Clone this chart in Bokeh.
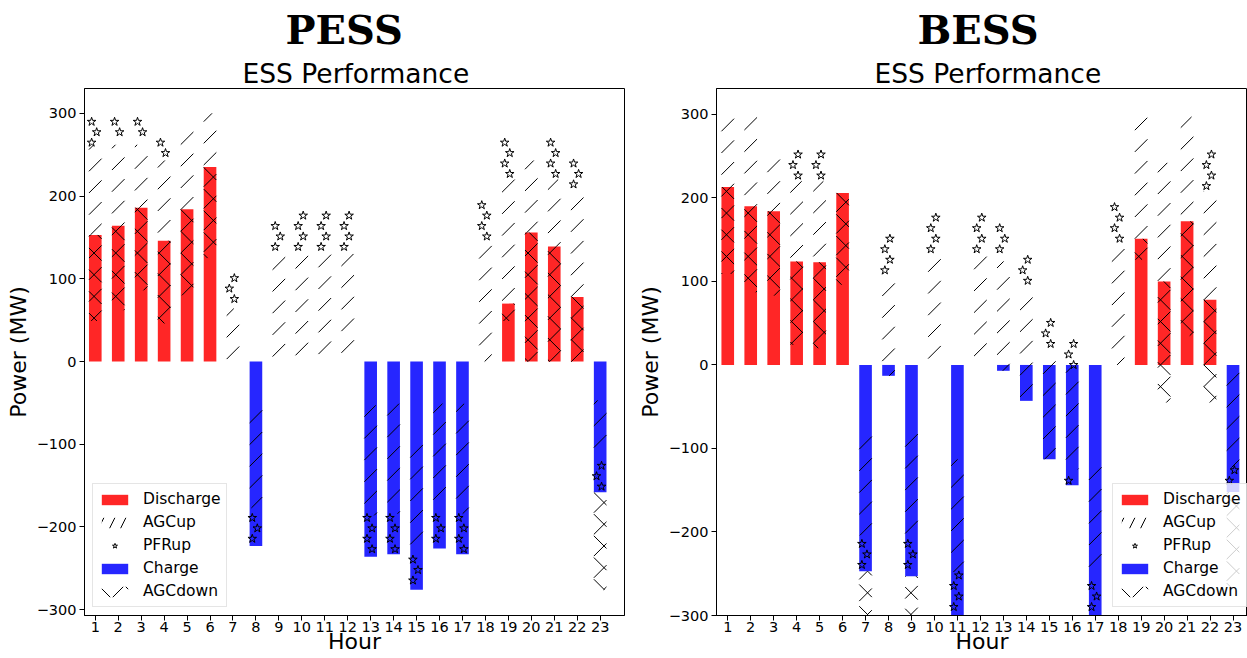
import math

from bokeh.embed import file_html
from bokeh.layouts import row
from bokeh.models import (ColumnDataSource, CustomJSTickFormatter, FixedTicker,
                          Legend, LegendItem, Range1d, Title)
from bokeh.plotting import figure
from bokeh.resources import INLINE

# ---------------------------------------------------------------- data ----
hours = list(range(1, 24))
hour_labels = [str(h) for h in hours]
y_ticks = [-300, -200, -100, 0, 100, 200, 300]

# PESS schedule (MW)
pess_discharge = [153, 164, 186, 146, 184, 235, 0, 0, 0, 0, 0, 0, 0, 0, 0, 0, 0, 0, 70, 156, 139, 78, 0]
pess_charge = [0, 0, 0, 0, 0, 0, 0, 223, 0, 0, 0, 0, 236, 233, 276, 226, 233, 0, 0, 0, 0, 0, 158]
pess_agc_up = [108, 98, 76, 97, 103, 65, 64, 126, 128, 130, 130, 130, 133, 133, 128, 127, 133, 144, 152, 87, 81, 128, 67]
pess_pfr_low = [0, 0, 0, 0, 0, 0, 0, 46, 0, 0, 0, 0, 50, 49, 48, 48, 49, 0, 0, 0, 0, 0, 44]
pess_pfr_high = [39, 38, 38, 32, 13, 0, 44, 0, 50, 56, 56, 56, 0, 0, 0, 0, 0, 54, 54, 0, 48, 37, 0]
pess_agc_down = [104, 102, 100, 100, 104, 110, 0, 0, 0, 0, 0, 0, 0, 0, 0, 0, 0, 0, 21, 156, 139, 78, 118]

# BESS schedule (MW)
bess_discharge = [213, 190, 184, 124, 123, 206, 0, 0, 0, 0, 0, 0, 0, 0, 0, 0, 0, 0, 151, 100, 172, 78, 0]
bess_charge = [0, 0, 0, 0, 0, 0, 247, 13, 253, 0, 300, 0, 7, 43, 113, 144, 300, 0, 0, 0, 0, 0, 152]
bess_agc_up = [87, 107, 72, 96, 97, 3, 120, 123, 123, 132, 135, 134, 131, 130, 128, 122, 129, 144, 145, 142, 125, 130, 123]
bess_pfr_low = [0, 0, 0, 0, 0, 0, 43, 0, 50, 0, 52, 0, 0, 0, 0, 19, 50, 0, 0, 0, 0, 0, 29]
bess_pfr_high = [0, 0, 0, 36, 36, 0, 0, 46, 0, 48, 0, 52, 52, 50, 48, 32, 0, 54, 0, 0, 0, 48, 5]
bess_agc_down = [104, 103, 101, 100, 103, 110, 100, 0, 100, 0, 0, 0, 0, 0, 0, 0, 0, 0, 25, 145, 137, 123, 116]

# ------------------------------------------------------------- styling ----
RED = "#ff2626"
BLUE = "#2626ff"
BAR_W = 0.55
HATCH_PX = 21.7          # spacing of the diagonal hatch lines, in pixels
FONT = "DejaVu Sans"
FRAME_H = 527            # plot-area height in pixels


def star_marks(centres, lows, highs, dy=12.6, pad=3.0, shifts=(0.06, -0.16)):
    """One star per row, rows staggered left/right, inside each PFR block."""
    xs, ys = [], []
    for c, lo, hi in zip(centres, lows, highs):
        if hi - lo < 1:
            continue
        k = math.ceil((lo + pad) / dy)
        while k * dy <= hi - pad:
            xs.append(c + shifts[k % 2])
            ys.append(k * dy)
            k += 1
    return xs, ys


def hatch_lines(centres, lows, highs, sx, sy, direction):
    """45-degree hatch lines (in screen space) clipped to each block.

    direction=+1 gives '/', direction=-1 gives '\\'.
    """
    out = dict(x0=[], y0=[], x1=[], y1=[])
    for c, lo, hi in zip(centres, lows, highs):
        if hi - lo <= 0:
            continue
        X0, X1 = (c - BAR_W / 2) * sx, (c + BAR_W / 2) * sx
        Y0, Y1 = lo * sy, hi * sy
        if direction > 0:
            cmin, cmax = Y0 - X1, Y1 - X0
        else:
            cmin, cmax = Y0 + X0, Y1 + X1
        k = math.ceil(cmin / HATCH_PX)
        while k * HATCH_PX <= cmax:
            off = k * HATCH_PX
            if direction > 0:
                xa, xb = max(X0, Y0 - off), min(X1, Y1 - off)
                ya, yb = xa + off, xb + off
            else:
                xa, xb = max(X0, off - Y1), min(X1, off - Y0)
                ya, yb = off - xa, off - xb
            if xb > xa:
                out["x0"].append(xa / sx)
                out["y0"].append(ya / sy)
                out["x1"].append(xb / sx)
                out["y1"].append(yb / sy)
            k += 1
    return out


def merge(a, b):
    return {k: a[k] + b[k] for k in a}


def panel(name, discharge, charge, agc_up, pfr_low, pfr_high, agc_down,
          x_rng, y_rng, frame_w, border_left, border_right, legend_x):
    base = [d - c for d, c in zip(discharge, charge)]
    low_top = [b + f for b, f in zip(base, pfr_low)]
    up_top = [l + u for l, u in zip(low_top, agc_up)]
    high_top = [u + f for u, f in zip(up_top, pfr_high)]
    down_bot = [b - w for b, w in zip(base, agc_down)]

    sx = frame_w / (x_rng[1] - x_rng[0])
    sy = FRAME_H / (y_rng[1] - y_rng[0])

    src = ColumnDataSource(dict(
        hour=hours, zero=[0] * len(hours),
        dis=discharge, chg=[-c for c in charge],
    ))

    p = figure(frame_width=frame_w, frame_height=FRAME_H,
               x_range=Range1d(*x_rng), y_range=Range1d(*y_rng),
               output_backend="svg", toolbar_location=None, title=None,
               min_border_left=border_left, min_border_right=border_right,
               min_border_top=88, min_border_bottom=0,
               background_fill_color="white", border_fill_color="white")

    r_dis = p.vbar(x="hour", width=BAR_W, bottom="zero", top="dis", source=src,
                   fill_color=RED, line_color=None)
    r_chg = p.vbar(x="hour", width=BAR_W, bottom="zero", top="chg", source=src,
                   fill_color=BLUE, line_color=None)

    # AGC up: single diagonal hatch
    up = hatch_lines(hours, low_top, up_top, sx, sy, +1)
    p.segment(x0="x0", y0="y0", x1="x1", y1="y1", source=ColumnDataSource(up),
              line_color="black", line_width=1)
    # AGC down: crossed hatch
    dn = merge(hatch_lines(hours, down_bot, base, sx, sy, +1),
               hatch_lines(hours, down_bot, base, sx, sy, -1))
    p.segment(x0="x0", y0="y0", x1="x1", y1="y1", source=ColumnDataSource(dn),
              line_color="black", line_width=1)

    # PFR up: star pattern
    sx1, sy1 = star_marks(hours, base, low_top)
    sx2, sy2 = star_marks(hours, up_top, high_top)
    r_star = p.scatter(sx1 + sx2, sy1 + sy2, marker="star", size=9,
                       fill_color=None, line_color="black", line_width=1)

    # legend swatches for the hatched blocks (placed outside the visible range)
    r_up_key = p.vbar(x=[-50], width=BAR_W, bottom=[0], top=[1],
                      fill_color=None, line_color=None, hatch_pattern="/",
                      hatch_color="black", hatch_weight=1, hatch_scale=22)
    r_dn_key = p.vbar(x=[-50], width=BAR_W, bottom=[0], top=[1],
                      fill_color=None, line_color=None, hatch_pattern="x",
                      hatch_color="black", hatch_weight=1, hatch_scale=26)

    # axes
    p.xaxis.ticker = FixedTicker(ticks=hours)
    p.xaxis.major_label_overrides = {h: t for h, t in zip(hours, hour_labels)}
    p.yaxis.ticker = FixedTicker(ticks=y_ticks)
    p.yaxis.formatter = CustomJSTickFormatter(
        code="return tick < 0 ? '\\u2212' + Math.abs(tick) : String(tick);")
    p.xaxis.axis_label = "Hour"
    p.yaxis.axis_label = "Power (MW)"
    for ax in (p.xaxis, p.yaxis):
        ax.axis_label_text_font = FONT
        ax.axis_label_text_font_size = "22px"
        ax.axis_label_text_font_style = "normal"
        ax.axis_label_text_color = "black"
        ax.major_label_text_font = FONT
        ax.major_label_text_font_size = "14.5px"
        ax.major_label_text_color = "black"
        ax.minor_tick_line_color = None
        ax.major_tick_in = 0
        ax.major_tick_out = 5
        ax.major_tick_line_color = "black"
        ax.axis_line_color = "black"
    p.xaxis.major_label_standoff = 1
    p.xaxis.axis_label_standoff = -6
    p.yaxis.major_label_standoff = 3
    p.yaxis.axis_label_standoff = 3
    p.xgrid.visible = False
    p.ygrid.visible = False
    p.outline_line_color = "black"
    p.outline_line_width = 1

    # titles (later additions sit further from the frame)
    p.add_layout(Title(text="ESS Performance", align="left", offset=158,
                       text_font=FONT, text_font_size="26.5px", text_color="black",
                       text_font_style="normal", standoff=0), "above")
    p.add_layout(Title(text=name, align="left", offset=201,
                       text_font="DejaVu Serif", text_font_size="40px",
                       text_color="black", text_font_style="bold",
                       standoff=5), "above")

    legend = Legend(items=[
        LegendItem(label="Discharge", renderers=[r_dis]),
        LegendItem(label="AGCup", renderers=[r_up_key]),
        LegendItem(label="PFRup", renderers=[r_star]),
        LegendItem(label="Charge", renderers=[r_chg]),
        LegendItem(label="AGCdown", renderers=[r_dn_key]),
    ], location=(legend_x, 8), orientation="vertical",
        glyph_width=33, glyph_height=13, label_height=20, spacing=3,
        padding=5, label_standoff=12, margin=0,
        label_text_font=FONT, label_text_font_size="15.5px",
        label_text_color="black",
        border_line_color="#cccccc", border_line_width=1,
        background_fill_color="white", background_fill_alpha=0.8)
    p.add_layout(legend)
    return p


p_pess = panel("PESS", pess_discharge, pess_charge, pess_agc_up, pess_pfr_low,
               pess_pfr_high, pess_agc_down,
               x_rng=(0.53, 24.06), y_rng=(-307, 330), frame_w=540,
               border_left=84, border_right=8, legend_x=8)
p_bess = panel("BESS", bess_discharge, bess_charge, bess_agc_up, bess_pfr_low,
               bess_pfr_high, bess_agc_down,
               x_rng=(0.51, 23.63), y_rng=(-300, 331), frame_w=531,
               border_left=84, border_right=0, legend_x=396)

layout = row(p_pess, p_bess)
open("out.html", "w").write(file_html(layout, INLINE))
